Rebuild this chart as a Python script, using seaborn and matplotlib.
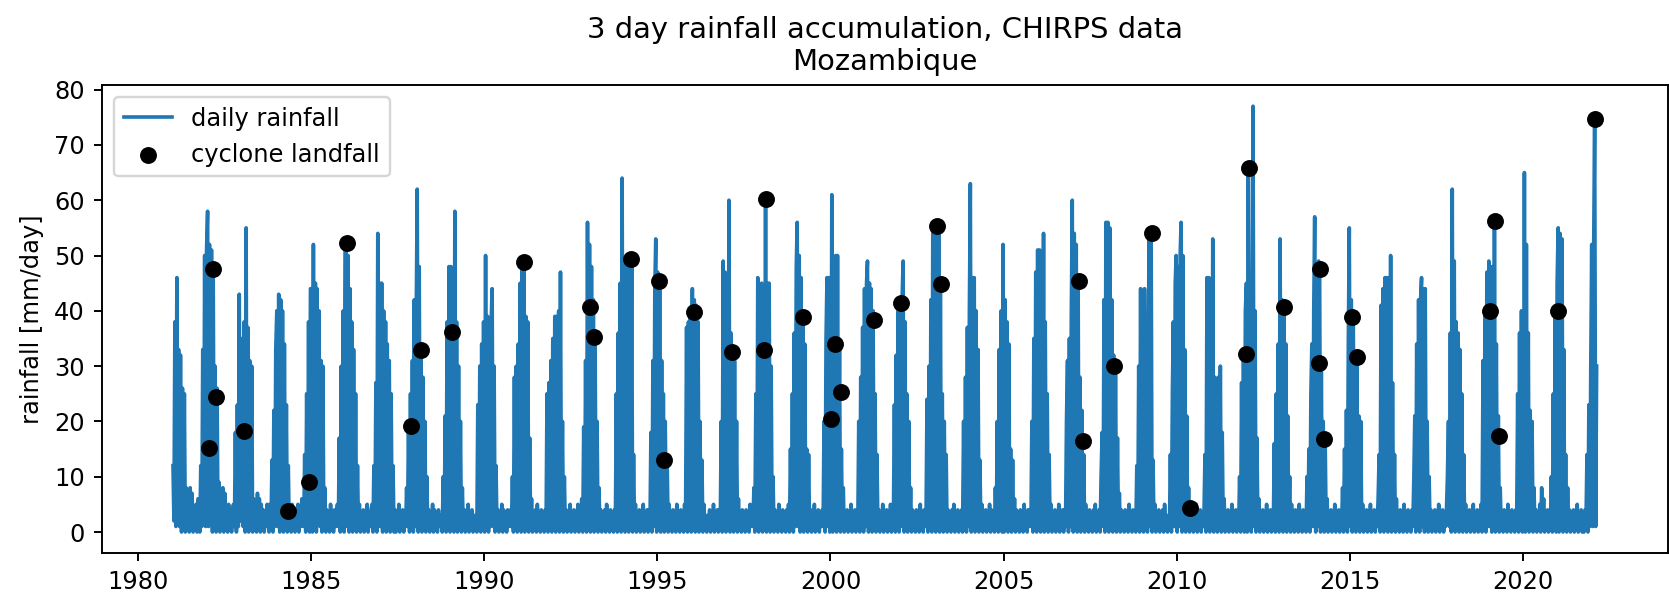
import pandas as pd
import matplotlib
matplotlib.use('Agg')
import matplotlib.pyplot as plt
import seaborn as sns

# 10-day values, one row per calendar year (Jan..Dec, 3 per month)
first_year = 1981
dekad_days = [5, 15, 25]
dekad_rain = [
    "12 2 38 1 46 2 33 1 32 0 26 1 25 0 8  1 5 0 8 1 7 0 4 1 5 0 6  6 0 12 1 33 2 50 1 51",    # 1981
    "58 1 52 2 51 0 48 1 30 0 26 1 9 0 6  1 8 0 7 1 4 0 5 1 3 0 4  5 1 18 0 23 1 43 2 30",     # 1982
    "35 1 38 0 55 2 37 0 31 1 30 0 6 1 4  0 7 1 6 0 5 1 4 0 3 1 5  3 0 5 1 13 0 22 1 33",      # 1983
    "40 1 43 0 42 2 40 0 34 1 23 0 12 1 4  0 5 1 3 0 4 1 5 0 3 1 6  4 1 14 0 25 1 38 0 44",    # 1984
    "44 0 52 1 45 0 44 2 40 1 31 0 30 1 8  0 4 1 3 0 5 1 3 0 4 1 3  5 1 17 0 30 1 40 0 52",    # 1985
    "53 1 50 0 44 1 38 0 33 1 25 0 12 1 5  0 3 1 4 0 3 1 5 0 3 1 4  5 0 12 1 27 0 54 1 45",    # 1986
    "1 45 0 40 1 38 0 34 1 31 0 25 1 12 0  4 0 3 1 5 0 3 1 4 0 3 1  8 1 20 0 25 1 31 0 42",    # 1987
    "1 40 62 0 48 1 33 0 28 1 20 0 10 1 4  0 3 1 5 0 4 1 3 0 4 1 3  2 0 10 1 21 0 38 1 48",    # 1988
    "0 48 1 46 0 58 1 38 0 30 1 20 0 8 1  4 0 3 1 5 0 3 1 4 0 3 1  3 0 23 1 30 0 34 1 38",     # 1989
    "0 50 1 39 0 38 1 38 44 1 30 0 12 1 4  0 3 1 5 0 4 1 3 0 4 1 3  4 1 10 0 28 1 30 0 34",    # 1990
    "1 45 0 48 1 49 0 39 1 38 0 17 1 6 0  3 1 4 0 5 1 3 0 4 1 3 0  4 1 25 0 27 1 31 0 35",     # 1991
    "1 39 0 39 1 40 0 47 1 20 0 10 1 4 0  3 1 5 0 3 1 4 0 3 1 5 0  4 1 6 0 19 1 31 0 56",      # 1992
    "1 52 0 48 1 42 0 35 1 20 0 8 1 4 0  3 1 4 0 5 1 3 0 4 1 3 0  4 1 25 0 36 1 45 0 64",      # 1993
    "1 49 0 48 1 47 0 48 1 49 0 14 1 5 0  3 1 4 0 3 1 5 0 3 1 4 0  4 1 18 0 31 1 44 53 0",     # 1994
    "47 1 45 0 31 1 25 0 20 1 12 0 5 1 3  0 4 1 3 0 5 1 3 0 4 1 3  0 5 1 37 0 38 1 40 0",      # 1995
    "44 1 42 0 41 1 38 0 20 1 13 0 5 1 3  0 3 1 4 0 3 1 5 0 3 1 4  0 4 1 20 0 49 1 47 0",      # 1996
    "45 1 60 0 36 1 33 0 31 1 20 0 6 1 3  0 4 1 3 0 4 1 3 0 5 1 3  1 8 0 25 1 46 0 44 1",      # 1997
    "45 0 44 1 60 0 45 1 45 0 30 1 10 0 4  1 3 0 5 1 3 0 4 1 3 0 4  1 5 0 15 1 25 0 36 1",     # 1998
    "48 56 1 50 0 46 1 39 0 34 1 15 0 14 1  4 0 3 1 5 0 3 1 4 0 3 1  4 1 20 0 35 46 1 46 0",   # 1999
    "1 61 0 46 1 50 0 50 1 34 0 15 1 8 0  3 1 4 0 3 1 5 0 3 1 4 0  3 1 20 0 28 1 37 0 44",     # 2000
    "1 45 49 0 45 1 44 0 40 1 25 0 14 1 4  0 3 1 5 0 3 1 4 0 3 1 5  0 4 1 23 0 32 1 40 0",     # 2001
    "41 1 42 49 0 38 1 25 0 20 1 8 0 4 1  3 0 4 1 3 0 5 1 3 0 4 1  3 24 0 30 1 42 0 54 1",     # 2002
    "54 0 55 1 54 0 45 1 25 0 20 1 14 0 4  1 3 0 4 1 5 0 3 1 4 0 3  1 4 0 20 1 28 0 37 1",     # 2003
    "40 63 0 46 1 46 0 40 1 33 0 13 1 5 0  3 1 4 0 3 1 5 0 4 1 3 0  8 1 20 0 33 1 40 0 52",    # 2004
    "0 42 1 38 0 34 1 15 0 13 1 6 0 4 1  3 0 4 1 3 0 5 1 3 0 4 1  4 1 20 0 35 1 47 0 51",      # 2005
    "1 51 0 48 1 54 0 38 1 25 0 14 1 5 0  3 1 4 0 3 1 5 0 3 1 4 0  4 1 20 31 0 35 1 39 60",    # 2006
    "0 54 1 52 0 46 1 28 0 22 1 14 0 5 1  3 0 4 1 3 0 4 1 5 0 3 1  4 0 10 18 1 42 0 56 1",     # 2007
    "56 0 55 1 42 0 32 1 30 0 17 1 7 0 4  1 3 0 4 1 3 0 5 1 3 0 4  1 3 0 12 1 30 0 44 1",      # 2008
    "43 0 44 1 34 0 33 54 1 54 0 13 1 5 0  3 1 4 0 3 1 4 0 5 1 3 0  3 1 14 0 25 38 1 45 50",   # 2009
    "0 48 1 50 56 0 50 1 33 0 21 1 8 0 3  1 4 0 3 1 5 0 3 1 4 0 3  1 4 14 0 46 1 46 0 45",     # 2010
    "1 53 0 28 1 27 0 28 1 30 0 18 1 6 0  3 1 4 0 3 1 5 0 3 1 4 0  3 1 10 0 27 1 32 0 40",     # 2011
    "45 0 66 1 45 0 40 77 1 40 0 17 1 6 0  3 1 4 0 3 1 5 0 3 1 4 0  3 1 16 0 25 1 34 0 53",    # 2012
    "1 42 0 41 1 34 0 21 1 10 0 5 1 3 0  4 1 3 0 5 1 3 0 4 1 3 0  10 1 15 0 25 34 1 40 57",    # 2013
    "0 48 1 49 48 0 30 1 20 0 16 1 6 0 3  1 4 0 3 1 5 0 3 1 4 0 3  1 8 0 15 1 22 0 35 55",     # 2014
    "1 42 0 39 1 32 0 31 1 21 0 20 1 5 0  3 1 4 0 3 1 5 0 3 1 4 0  3 1 6 14 0 41 1 44 0",      # 2015
    "46 1 46 0 46 1 50 0 27 1 14 0 6 1 3  0 4 1 3 0 5 1 3 0 4 1 3  0 4 1 10 21 0 34 1 42",     # 2016
    "0 42 46 1 44 0 44 1 20 0 10 1 4 0 3  1 4 0 3 1 5 0 3 1 4 0 3  1 4 10 20 1 36 0 62 1",     # 2017
    "49 0 38 1 36 0 33 1 25 0 14 1 5 0 3  1 4 0 3 1 5 0 3 1 4 0 3  1 5 0 31 1 40 0 47 1",      # 2018
    "49 1 48 0 48 1 56 0 34 1 21 0 8 1 3  0 4 1 3 0 5 1 3 0 4 1 3  0 4 1 25 0 36 1 40 0",      # 2019
    "1 65 0 52 1 36 0 22 1 20 0 8 1 4 0  3 1 5 0 8 1 6 0 3 1 4 0  3 1 10 0 25 1 40 0 45",      # 2020
    "55 0 54 1 53 0 33 1 14 0 8 1 4 0 3  1 4 0 3 1 5 0 3 1 4 0 3  0 4 1 14 0 23 1 30 52",      # 2021
    "1 52 74.6 1 30",                                                                          # 2022
]

# cyclone landfall dates and the rainfall on that day
landfall_dates = ['1982-01-23', '1982-03-03', '1982-04-02', '1983-01-19', '1984-05-04',
                  '1984-12-05', '1986-01-12', '1987-11-25', '1988-03-03', '1989-01-27',
                  '1991-02-25', '1993-01-16', '1993-03-04', '1994-04-02', '1995-01-19',
                  '1995-03-11', '1996-01-27', '1997-02-25', '1998-01-27', '1998-02-25',
                  '1999-03-15', '2000-01-08', '2000-02-21', '2000-04-16', '2001-03-30',
                  '2002-01-16', '2003-01-27', '2003-03-11', '2007-03-04', '2007-04-21',
                  '2008-03-07', '2009-04-10', '2010-05-23', '2012-01-04', '2012-01-30',
                  '2013-02-07', '2014-02-07', '2014-02-21', '2014-03-30', '2015-01-27',
                  '2015-03-19', '2019-01-19', '2019-03-11', '2019-04-24', '2021-01-01',
                  '2022-01-30']
landfall_rain = [15.1, 47.6, 24.4, 18.3, 3.8, 9.1, 52.3, 19.2, 33.0, 36.1,
                 48.9, 40.6, 35.2, 49.3, 45.3, 13.0, 39.7, 32.6, 33.0, 60.2,
                 38.8, 20.4, 34.0, 25.3, 38.3, 41.4, 55.4, 44.8, 45.3, 16.5,
                 30.0, 54.1, 4.3, 32.1, 65.9, 40.6, 30.5, 47.5, 16.8, 38.8,
                 31.7, 40.0, 56.2, 17.4, 40.0, 74.6]

rows = []
for i, row in enumerate(dekad_rain):
    year = first_year + i
    for k, v in enumerate(row.split()):
        rows.append((pd.Timestamp(year, k // 3 + 1, dekad_days[k % 3]), float(v)))
df = pd.DataFrame(rows, columns=['date', 'rain'])

df_cyc = pd.DataFrame({'date': pd.to_datetime(landfall_dates), 'rain': landfall_rain})

dpi = 174
fig = plt.figure(figsize=(1669 / dpi, 595 / dpi), dpi=dpi)
ax = fig.add_axes([0.061, 0.0701, 0.9383, 0.7872])

sns.lineplot(data=df, x='date', y='rain', ax=ax, estimator=None, color='#1f77b4',
             linewidth=1.5, label='daily rainfall')
sns.scatterplot(data=df_cyc, x='date', y='rain', ax=ax, color='black', s=49,
                linewidth=0, zorder=3, label='cyclone landfall')

ax.set_yticks(range(0, 81, 10))
ax.set_xlabel('')
ax.set_ylabel('rainfall [mm/day]')
ax.set_title('3 day rainfall accumulation, CHIRPS data\nMozambique', fontsize=12)
ax.legend(loc='upper left')

fig.savefig('out.png', dpi=dpi)
